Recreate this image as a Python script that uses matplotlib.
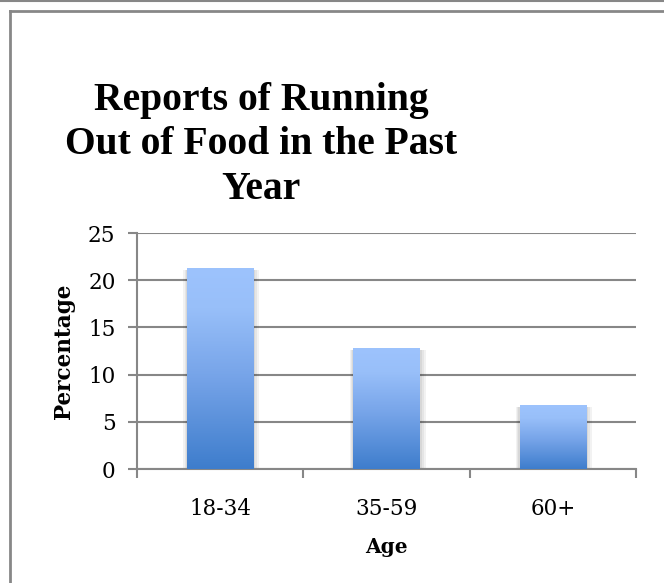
import numpy as np
import matplotlib
matplotlib.use('Agg')
import matplotlib.pyplot as plt
from matplotlib.colors import LinearSegmentedColormap
from matplotlib.lines import Line2D
from matplotlib.patches import Rectangle

# data
ages = ['18-34', '35-59', '60+']
percent = [21.2, 12.8, 6.7]
yticks = [0, 5, 10, 15, 20, 25]

W, H = 664, 583
fig = plt.figure(figsize=(W / 100, H / 100), dpi=100)
grey = '#878787'

# outer frame lines (top line, then box top + left edge)
fig.add_artist(Line2D([0, 1], [1 - 1 / H, 1 - 1 / H], color=grey, lw=1.5))
fig.add_artist(Line2D([10 / W, 1], [1 - 11 / H, 1 - 11 / H], color=grey, lw=2))
fig.add_artist(Line2D([10 / W, 10 / W], [0, 1 - 11 / H], color=grey, lw=2))

ax = fig.add_axes([137 / W, 114 / H, 499 / W, 236 / H])

cmap = LinearSegmentedColormap.from_list(
    'bar', [(0.0, '#3e7dcc'), (0.45, '#75a3e8'), (0.8, '#98bff9'), (1.0, '#9dc3fd')])
grad = np.linspace(0, 1, 256).reshape(-1, 1)
bw = 0.4
x = np.arange(len(ages))
for xi, v in zip(x, percent):
    # soft shadow
    for k, a in enumerate([0.05, 0.05, 0.06]):
        d = 0.012 * (3 - k)
        ax.add_patch(Rectangle((xi - bw / 2 - d * 0.6, -0.3 * (3 - k)), bw + d * 1.6,
                               v + 0.3 * (3 - k) - 0.15, color='k', alpha=a, lw=0, zorder=2))
    ax.imshow(grad, extent=[xi - bw / 2, xi + bw / 2, 0, v], origin='lower',
              aspect='auto', cmap=cmap, zorder=3, interpolation='bilinear')

ax.set_xlim(-0.5, 2.5)
ax.set_ylim(0, 25)
ax.set_yticks(yticks)
ax.set_xticks(x)
ax.set_xticklabels(ages)
ax.set_xticks([-0.5, 0.5, 1.5, 2.5], minor=True)

for s in ['top', 'right']:
    ax.spines[s].set_visible(False)
for s in ['left', 'bottom']:
    ax.spines[s].set_color(grey)
    ax.spines[s].set_linewidth(1.5)
ax.yaxis.grid(True, color=grey, lw=1.5)
ax.set_axisbelow(True)

ax.tick_params(axis='y', direction='out', length=6.5, width=1.5, color=grey,
               pad=9, labelsize=15.5, labelfontfamily='DejaVu Serif')
ax.tick_params(axis='x', which='major', length=0, pad=21, labelsize=15.5,
               labelfontfamily='DejaVu Serif')
ax.tick_params(axis='x', which='minor', direction='out', length=6.5, width=1.5, color=grey)

ax.set_xlabel('Age', fontsize=14.5, fontweight='bold', family='DejaVu Serif', labelpad=12)
ax.set_ylabel('Percentage', fontsize=15.5, fontweight='bold', family='DejaVu Serif',
              labelpad=9)

fig.text(261 / W, 1 - 145 / H,
         'Reports of Running\nOut of Food in the Past\nYear',
         ha='center', va='center', fontsize=28.5, fontweight='bold',
         family='Liberation Serif', linespacing=1.28)

fig.savefig('out.png', dpi=100, facecolor='white')
